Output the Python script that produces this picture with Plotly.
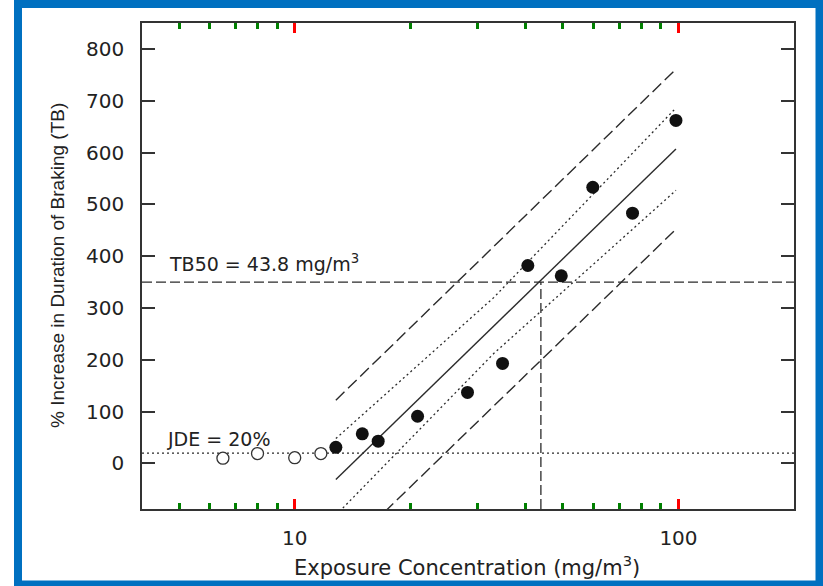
import math
import plotly.graph_objects as go

# ---------------- data ----------------
open_x = [6.5, 8.0, 10.0, 11.7]
open_y = [10, 19, 11, 19]

filled_x = [12.8, 15.0, 16.5, 20.9, 28.2, 34.8, 40.5, 49.5, 59.8, 75.9, 98.5]
filled_y = [31, 57, 43, 91, 137, 193, 382, 362, 533, 483, 662]

fit_x = [12.8, 98.5]
fit_y = [-31, 607]

ci_x = [12.8, 33.0, 98.5]
ci_upper = [48, 320, 686]
ci_lower = [-100, 212, 527]

pi_x = [12.8, 98.5]
pi_upper = [122, 761]
pi_lower = [-185, 452]

tb50_x = 43.8
tb50_y = 350
jde_y = 20

x_range = [4, 200]
y_range = [-88, 850]
x_major = [10, 100]
x_major_text = ["10", "100"]
x_minor = [5, 6, 7, 8, 9, 20, 30, 40, 50, 60, 70, 80, 90]
y_ticks = [0, 100, 200, 300, 400, 500, 600, 700, 800]

# ---------------- figure ----------------
LINE = "#2b2b2b"
AX = "#333333"
TXT = "#222222"
BLUE = "#0070C0"

fig = go.Figure()

fig.add_trace(go.Scatter(x=[x_range[0], x_range[1]], y=[jde_y, jde_y], mode="lines",
                         line=dict(color=LINE, width=1.3, dash="2px,3px"), hoverinfo="skip"))
fig.add_trace(go.Scatter(x=[x_range[0], x_range[1]], y=[tb50_y, tb50_y], mode="lines",
                         line=dict(color=LINE, width=1.3, dash="10px,4px"), hoverinfo="skip"))
fig.add_trace(go.Scatter(x=[tb50_x, tb50_x], y=[y_range[0], tb50_y], mode="lines",
                         line=dict(color=LINE, width=1.3, dash="10px,4px"), hoverinfo="skip"))

fig.add_trace(go.Scatter(x=pi_x, y=pi_upper, mode="lines",
                         line=dict(color=LINE, width=1.4, dash="12px,5px")))
fig.add_trace(go.Scatter(x=pi_x, y=pi_lower, mode="lines",
                         line=dict(color=LINE, width=1.4, dash="12px,5px")))
fig.add_trace(go.Scatter(x=ci_x, y=ci_upper, mode="lines",
                         line=dict(color=LINE, width=1.3, dash="2px,3px")))
fig.add_trace(go.Scatter(x=ci_x, y=ci_lower, mode="lines",
                         line=dict(color=LINE, width=1.3, dash="2px,3px")))
fig.add_trace(go.Scatter(x=fit_x, y=fit_y, mode="lines",
                         line=dict(color=LINE, width=1.4)))

fig.add_trace(go.Scatter(x=open_x, y=open_y, mode="markers",
                         marker=dict(size=12, color="white", line=dict(color="#333333", width=1.3))))
fig.add_trace(go.Scatter(x=filled_x, y=filled_y, mode="markers",
                         marker=dict(size=13, color="#111111", line=dict(width=0))))

x_log_range = [math.log10(x_range[0]), math.log10(x_range[1])]

fig.update_layout(
    xaxis=dict(type="log", range=x_log_range, tickmode="array", tickvals=x_major,
               ticktext=x_major_text, ticks="inside", ticklen=10, tickcolor="red", tickwidth=3,
               showline=True, mirror="ticks", linecolor=AX, linewidth=1.5,
               ticklabelstandoff=10, showgrid=False, zeroline=False,
               tickfont=dict(family="DejaVu Sans", size=20, color=TXT),
               minor=dict(tickmode="array", tickvals=x_minor, ticks="inside", ticklen=6,
                          tickcolor="green", tickwidth=3, showgrid=False)),
    yaxis=dict(range=y_range, tickmode="array", tickvals=y_ticks, ticks="inside", ticklen=13,
               tickcolor=AX, tickwidth=2, showline=True, mirror="ticks", linecolor=AX,
               linewidth=1.5, showgrid=False, zeroline=False, ticklabelstandoff=12,
               tickfont=dict(family="DejaVu Sans", size=20, color=TXT)),
)

PL, PR, PT, PB = 142, 29, 23, 77
W, H = 823, 586
pw, ph = W - PL - PR, H - PT - PB


def px(xp):
    return (xp - PL) / pw


def py(yp):
    return (H - PB - yp) / ph


annos = [
    dict(text="TB50 = 43.8 mg/m<sup>3</sup>", x=px(167), y=py(263), xanchor="left", yanchor="middle",
         font=dict(family="DejaVu Sans", size=19, color=TXT)),
    dict(text="JDE = 20%", x=px(165), y=py(439), xanchor="left", yanchor="middle",
         font=dict(family="DejaVu Sans", size=19, color=TXT)),
    dict(text="Exposure Concentration (mg/m<sup>3</sup>)", x=px(467), y=py(566), xanchor="center",
         yanchor="middle", font=dict(family="DejaVu Sans", size=21, color=TXT)),
    dict(text="% Increase in Duration of Braking (TB)", x=px(57), y=py(266), xanchor="center",
         yanchor="middle", textangle=-90, font=dict(family="Liberation Sans", size=19, color=TXT)),
]
for a in annos:
    fig.add_annotation(xref="paper", yref="paper", showarrow=False, **a)

fig.add_shape(type="rect", xref="paper", yref="paper",
              x0=px(18), x1=px(819.5), y0=py(584.5), y1=py(4),
              line=dict(color=BLUE, width=8), fillcolor="rgba(0,0,0,0)", layer="above")

fig.update_layout(width=W, height=H, margin=dict(l=PL, r=PR, t=PT, b=PB),
                  paper_bgcolor="white", plot_bgcolor="white", showlegend=False,
                  font=dict(family="DejaVu Sans", color=TXT))

fig.write_html("out.html")
